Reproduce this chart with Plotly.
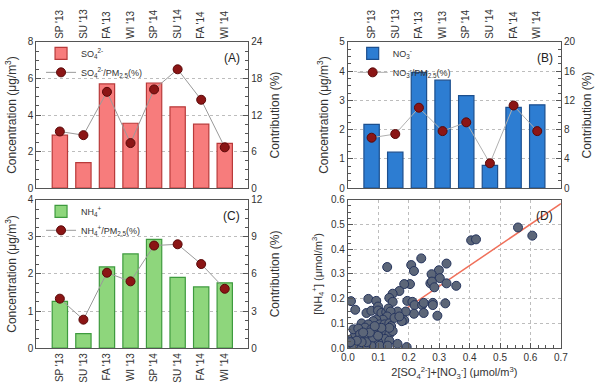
import plotly.graph_objects as go
import numpy as np

seasons = ["SP '13", "SU '13", "FA '13", "WI '13", "SP '14", "SU '14", "FA '14", "WI '14"]
so4_conc = [2.9, 1.4, 5.7, 3.55, 5.75, 4.45, 3.5, 2.45]
so4_pct = [9.3, 8.7, 15.8, 7.4, 16.2, 19.5, 14.5, 6.7]
no3_conc = [2.18, 1.23, 3.96, 3.69, 3.16, 0.78, 2.76, 2.85]
no3_pct = [6.9, 7.4, 11.0, 7.8, 9.0, 3.4, 11.3, 7.8]
nh4_conc = [1.26, 0.39, 2.19, 2.54, 2.93, 1.91, 1.65, 1.76]
nh4_pct = [4.0, 2.3, 6.1, 5.4, 8.3, 8.4, 6.8, 4.8]

# Panel D: 2[SO4]+[NO3] vs [NH4] (umol/m3)
anion = [0.405, 0.421, 0.559, 0.606, 0.241, 0.208, 0.217, 0.129, 0.324, 0.299,
         0.275, 0.302, 0.271, 0.276, 0.324, 0.356, 0.284, 0.204, 0.185, 0.169,
         0.147, 0.136, 0.147, 0.195, 0.212, 0.219, 0.244, 0.249, 0.279, 0.279,
         0.320, 0.249, 0.217, 0.190, 0.163, 0.294, 0.185, 0.177, 0.163, 0.193,
         0.010, 0.024, 0.067, 0.061, 0.077, 0.093, 0.099, 0.099, 0.110, 0.126,
         0.133, 0.140, 0.129, 0.115, 0.093, 0.083, 0.104, 0.120, 0.136, 0.142,
         0.045, 0.067, 0.056, 0.077, 0.093, 0.110, 0.126, 0.136, 0.122, 0.136,
         0.099, 0.088, 0.104, 0.131, 0.077, 0.056, 0.034, 0.008, 0.018, 0.013,
         0.024, 0.018, 0.034, 0.040, 0.050, 0.067, 0.061, 0.045, 0.029, 0.008,
         0.083, 0.099, 0.072, 0.050, 0.147, 0.136, 0.110, 0.088, 0.153, 0.169]
ammon = [0.436, 0.440, 0.488, 0.455, 0.363, 0.336, 0.312, 0.328, 0.342, 0.315,
         0.299, 0.283, 0.262, 0.269, 0.262, 0.252, 0.246, 0.259, 0.259, 0.231,
         0.220, 0.203, 0.187, 0.191, 0.187, 0.174, 0.174, 0.183, 0.183, 0.174,
         0.181, 0.142, 0.139, 0.148, 0.148, 0.131, 0.113, 0.109, 0.017, 0.004,
         0.190, 0.155, 0.199, 0.142, 0.151, 0.191, 0.168, 0.152, 0.142, 0.145,
         0.160, 0.148, 0.128, 0.115, 0.115, 0.109, 0.096, 0.096, 0.100, 0.089,
         0.100, 0.096, 0.083, 0.076, 0.079, 0.066, 0.063, 0.056, 0.037, 0.030,
         0.024, 0.026, 0.010, 0.010, 0.010, 0.004, 0.004, 0.004, 0.013, 0.037,
         0.056, 0.076, 0.079, 0.056, 0.043, 0.043, 0.024, 0.024, 0.030, 0.024,
         0.043, 0.050, 0.063, 0.063, 0.069, 0.082, 0.082, 0.089, 0.122, 0.128]
fit_slope = 0.835
fit_intercept = 0.0

FONT = "Liberation Sans, Arial, sans-serif"
TXT = "#333333"
AX = "#555555"

fig = go.Figure()

# ---- Panel A ----
fig.add_trace(go.Bar(x=seasons, y=so4_conc, name="SO<sub>4</sub><sup>2-</sup>",
                     marker=dict(color="#F77C7C", line=dict(color="#B83A3A", width=1.2)),
                     xaxis="x", yaxis="y", legend="legend"))
fig.add_trace(go.Scatter(x=seasons, y=so4_pct, name="SO<sub>4</sub><sup>2-</sup>/PM<sub>2.5</sub>(%)",
                         mode="lines+markers", line=dict(color="#9a9a9a", width=1),
                         marker=dict(color="#8B1515", size=9, line=dict(color="#5a0808", width=1)),
                         xaxis="x", yaxis="y2", legend="legend"))
# ---- Panel B ----
fig.add_trace(go.Bar(x=seasons, y=no3_conc, name="NO<sub>3</sub><sup>-</sup>",
                     marker=dict(color="#2D7DD2", line=dict(color="#1C4F8E", width=1.2)),
                     xaxis="x2", yaxis="y3", legend="legend2"))
fig.add_trace(go.Scatter(x=seasons, y=no3_pct, name="NO<sub>3</sub><sup>-</sup>/PM<sub>2.5</sub>(%)",
                         mode="lines+markers", line=dict(color="#b0b0b0", width=1),
                         marker=dict(color="#8B1515", size=9, line=dict(color="#5a0808", width=1)),
                         xaxis="x2", yaxis="y4", legend="legend2"))
# ---- Panel C ----
fig.add_trace(go.Bar(x=seasons, y=nh4_conc, name="NH<sub>4</sub><sup>+</sup>",
                     marker=dict(color="#8ED67C", line=dict(color="#3E9A3E", width=1.2)),
                     xaxis="x3", yaxis="y5", legend="legend3"))
fig.add_trace(go.Scatter(x=seasons, y=nh4_pct, name="NH<sub>4</sub><sup>+</sup>/PM<sub>2.5</sub>(%)",
                         mode="lines+markers", line=dict(color="#9a9a9a", width=1),
                         marker=dict(color="#8B1515", size=9, line=dict(color="#5a0808", width=1)),
                         xaxis="x3", yaxis="y6", legend="legend3"))
# ---- Panel D ----
fx = np.array([0.0, 0.7])
fig.add_trace(go.Scatter(x=fx, y=fit_slope * fx + fit_intercept, mode="lines",
                         line=dict(color="#F0705A", width=1.5), showlegend=False,
                         xaxis="x4", yaxis="y7"))
fig.add_trace(go.Scatter(x=anion, y=ammon, mode="markers", showlegend=False,
                         marker=dict(color="#5C6678", size=9, line=dict(color="#26355E", width=1)),
                         xaxis="x4", yaxis="y7"))

dA = [30/606, 247/606]
dB = [349/606, 567/606]
yTop = [1-188/388, 1-37/388]
yBot = [1-353/388, 1-200/388]

tickf = dict(family=FONT, size=10, color=TXT)
titf = dict(family=FONT, size=12, color=TXT)
grid = dict(showgrid=True, gridcolor="#bdbdbd", griddash="dot", gridwidth=1)

def cat_x(domain, anchor, side):
    return dict(domain=domain, anchor=anchor, side=side, type="category", range=[-1, 8],
                tickangle=-90, tickfont=tickf, showline=True, linecolor=AX, linewidth=1,
                mirror=True, ticks="", showgrid=False, zeroline=False, fixedrange=True)

def left_y(domain, anchor, rng, dtick, minor):
    return dict(domain=domain, anchor=anchor, range=rng, dtick=dtick, tickfont=tickf,
                title=dict(text="Concentration (μg/m<sup>3</sup>)", font=titf, standoff=8),
                showline=True, linecolor=AX, linewidth=1, mirror=True,
                ticks="inside", ticklen=5, tickcolor=AX,
                minor=dict(ticks="inside", ticklen=3, dtick=minor, tickcolor=AX, showgrid=False),
                zeroline=False, **grid)

def right_y(over, anchor, rng, dtick, minor):
    return dict(overlaying=over, anchor=anchor, side="right", range=rng, dtick=dtick, tickfont=tickf,
                title=dict(text="Contribution (%)", font=titf, standoff=8),
                showline=True, linecolor=AX, linewidth=1,
                ticks="inside", ticklen=5, tickcolor=AX,
                minor=dict(ticks="inside", ticklen=3, dtick=minor, tickcolor=AX),
                showgrid=False, zeroline=False)

leg_common = dict(bgcolor="rgba(0,0,0,0)", font=dict(family=FONT, size=9, color=TXT),
                  xanchor="left", yanchor="top", tracegroupgap=0, itemwidth=30)

fig.update_layout(
    width=606, height=388, margin=dict(l=0, r=0, t=0, b=0),
    paper_bgcolor="white", plot_bgcolor="white",
    font=dict(family=FONT, color=TXT),
    bargap=0.35,
    xaxis=cat_x(dA, "y", "top"),
    yaxis=left_y(yTop, "x", [0, 8], 2, 0.5),
    yaxis2=right_y("y", "x", [0, 24], 6, 1.5),
    xaxis2=cat_x(dB, "y3", "top"),
    yaxis3=left_y(yTop, "x2", [0, 5], 1, 0.25),
    yaxis4=right_y("y3", "x2", [0, 20], 4, 1),
    xaxis3=cat_x(dA, "y5", "bottom"),
    yaxis5=left_y(yBot, "x3", [0, 4], 1, 0.25),
    yaxis6=right_y("y5", "x3", [0, 12], 3, 0.75),
    xaxis4=dict(domain=dB, anchor="y7", range=[0, 0.7], dtick=0.1, tickformat=".1f",
                tickfont=tickf, title=dict(text="2[SO<sub>4</sub><sup>2-</sup>]+[NO<sub>3</sub><sup>-</sup>] (μmol/m<sup>3</sup>)",
                                           font=dict(family=FONT, size=11, color=TXT), standoff=6),
                showline=True, linecolor=AX, linewidth=1, mirror=True,
                ticks="inside", ticklen=5, tickcolor=AX,
                minor=dict(ticks="inside", ticklen=3, dtick=0.025, tickcolor=AX, showgrid=False),
                zeroline=False, **grid),
    yaxis7=dict(domain=yBot, anchor="x4", range=[0, 0.6], dtick=0.1, tickformat=".1f",
                tickfont=tickf, title=dict(text="[NH<sub>4</sub><sup>+</sup>] (μmol/m<sup>3</sup>)",
                                           font=dict(family=FONT, size=11, color=TXT), standoff=6),
                showline=True, linecolor=AX, linewidth=1, mirror=True,
                ticks="inside", ticklen=5, tickcolor=AX,
                minor=dict(ticks="inside", ticklen=3, dtick=0.025, tickcolor=AX, showgrid=False),
                zeroline=False, **grid),
    legend=dict(x=dA[0] + 0.008, y=yTop[1] + 0.008, **leg_common),
    legend2=dict(x=dB[0] + 0.008, y=yTop[1] + 0.008, **leg_common),
    legend3=dict(x=dA[0] + 0.008, y=yBot[1] + 0.008, **leg_common),
    showlegend=True,
)

for lab, xr, yr in [("(A)", "x domain", "y domain"), ("(B)", "x2 domain", "y3 domain"),
                    ("(C)", "x3 domain", "y5 domain"), ("(D)", "x4 domain", "y7 domain")]:
    fig.add_annotation(text=lab, xref=xr, yref=yr, x=0.97, y=0.95, xanchor="right", yanchor="top",
                       showarrow=False, font=dict(family=FONT, size=12, color="#222"))

fig.write_html("out.html")
